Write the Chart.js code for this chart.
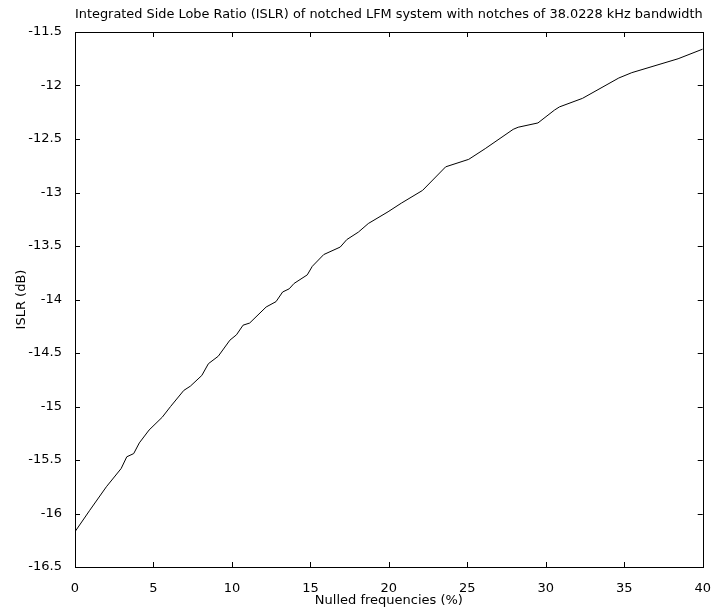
<!DOCTYPE html>
<html>
<head>
<meta charset="utf-8">
<script src="https://cdn.jsdelivr.net/npm/chart.js@4.4.1/dist/chart.umd.min.js"></script>
<style>
  html, body { margin: 0; padding: 0; background: #fff; }
  #wrap { width: 717px; height: 610px; }
</style>
</head>
<body>
<div id="wrap"><canvas id="islrChart" width="717" height="610"></canvas></div>
<script>
const nulledPct = [0, 0.94, 2.0, 2.94, 3.3, 3.74, 4.1, 4.72, 5.56, 6.09, 6.93, 7.35, 8.08, 8.5, 9.13, 9.87,
  10.29, 10.71, 11.13, 12.18, 12.81, 13.23, 13.65, 13.96, 14.8, 15.12, 15.85, 16.9, 17.32, 18.06, 18.69,
  19.95, 20.79, 22.15, 23.62, 25.09, 26.14, 27.92, 28.24, 29.5, 30.55, 30.87, 32.34, 34.65, 35.48, 38.43, 40];
const islrDb = [-16.17, -15.97, -15.75, -15.58, -15.47, -15.44, -15.34, -15.22, -15.10, -15.00, -14.85, -14.81,
  -14.71, -14.60, -14.53, -14.38, -14.33, -14.24, -14.22, -14.07, -14.02, -13.93, -13.90, -13.85, -13.77,
  -13.69, -13.58, -13.51, -13.44, -13.37, -13.29, -13.18, -13.10, -12.98, -12.76, -12.69, -12.59, -12.41,
  -12.39, -12.35, -12.23, -12.20, -12.12, -11.93, -11.88, -11.75, -11.66];
const xTicks = [0, 5, 10, 15, 20, 25, 30, 35, 40];
const yTicks = [-16.5, -16, -15.5, -15, -14.5, -14, -13.5, -13, -12.5, -12, -11.5];

const FONT = '"DejaVu Sans", sans-serif';

// matlab style box with inward ticks on all four sides
const boxTicks = {
  id: 'boxTicks',
  afterDraw(chart) {
    const { ctx, chartArea: a, scales: { x, y } } = chart;
    const len = 5;
    ctx.save();
    ctx.strokeStyle = '#000';
    ctx.lineWidth = 1;
    ctx.beginPath();
    xTicks.forEach(v => {
      const px = Math.round(x.getPixelForValue(v)) + 0.5;
      ctx.moveTo(px, a.bottom); ctx.lineTo(px, a.bottom - len);
      ctx.moveTo(px, a.top); ctx.lineTo(px, a.top + len);
    });
    yTicks.forEach(v => {
      const py = Math.round(y.getPixelForValue(v)) + 0.5;
      ctx.moveTo(a.left, py); ctx.lineTo(a.left + len, py);
      ctx.moveTo(a.right, py); ctx.lineTo(a.right - len, py);
    });
    ctx.stroke();
    ctx.strokeRect(Math.round(a.left) + 0.5, Math.round(a.top) + 0.5,
      Math.round(a.right - a.left), Math.round(a.bottom - a.top));
    ctx.restore();
  }
};

new Chart(document.getElementById('islrChart'), {
  type: 'line',
  data: {
    datasets: [{
      data: nulledPct.map((v, i) => ({ x: v, y: islrDb[i] })),
      borderColor: '#000',
      borderWidth: 1,
      pointRadius: 0,
      tension: 0,
      fill: false
    }]
  },
  options: {
    responsive: false,
    animation: false,
    layout: { padding: { left: 0, right: 7, top: 0, bottom: 0 } },
    plugins: {
      legend: { display: false },
      tooltip: { enabled: false },
      title: {
        display: true,
        fullSize: false,
        text: 'Integrated Side Lobe Ratio (ISLR) of notched LFM system with notches of 38.0228 kHz bandwidth',
        color: '#000',
        font: { family: FONT, size: 13, weight: 'normal' },
        padding: { top: 7, bottom: 9.4 }
      }
    },
    scales: {
      x: {
        type: 'linear',
        min: 0,
        max: 40,
        afterBuildTicks: s => { s.ticks = xTicks.map(v => ({ value: v })); },
        afterFit: s => { s.height = 43; },
        grid: { display: false },
        border: { display: false },
        ticks: { color: '#000', padding: 6, maxRotation: 0, font: { family: FONT, size: 13 } },
        title: {
          display: true,
          text: 'Nulled frequencies (%)',
          color: '#000',
          font: { family: FONT, size: 13 },
          padding: { top: 2, bottom: 2 }
        }
      },
      y: {
        type: 'linear',
        min: -16.5,
        max: -11.5,
        afterBuildTicks: s => { s.ticks = yTicks.map(v => ({ value: v })); },
        afterFit: s => { s.width = 75; },
        grid: { display: false },
        border: { display: false },
        ticks: {
          color: '#000',
          padding: 5,
          font: { family: FONT, size: 13 },
          callback: v => String(v)
        },
        title: {
          display: true,
          text: 'ISLR (dB)',
          color: '#000',
          font: { family: FONT, size: 13 },
          padding: { top: 14, bottom: 14 }
        }
      }
    }
  },
  plugins: [boxTicks]
});
</script>
</body>
</html>
